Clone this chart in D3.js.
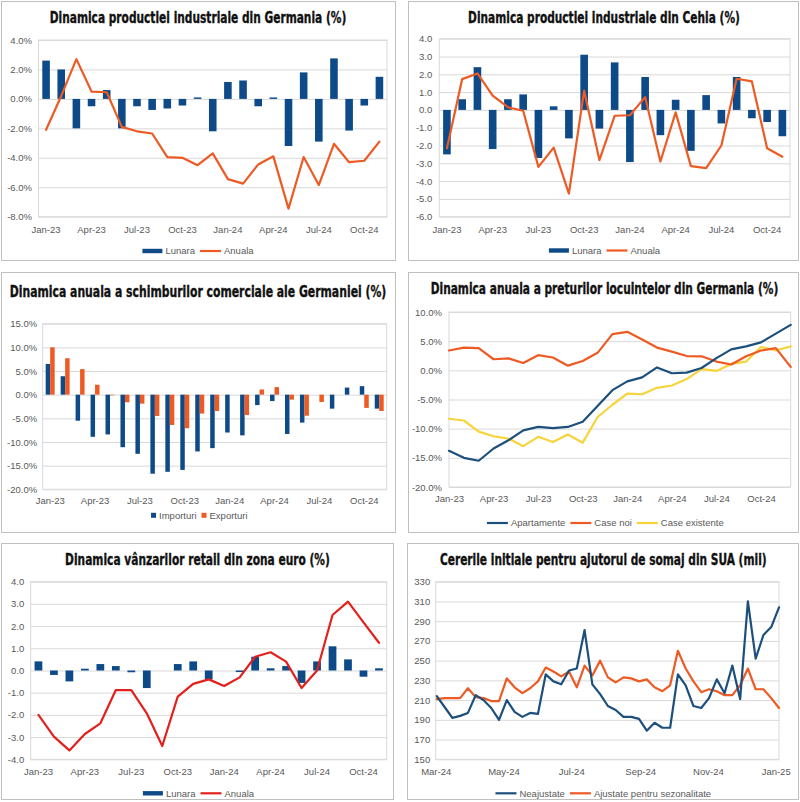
<!DOCTYPE html>
<html>
<head>
<meta charset="utf-8">
<script src="https://cdn.jsdelivr.net/npm/d3@7"></script>
<style>
  html, body { margin: 0; padding: 0; background: #fff; }
  svg { display: block; }
</style>
</head>
<body>
<div id="grafic"></div>
<script>
// ---- date ----
const luni = ["Jan-23","Feb-23","Mar-23","Apr-23","May-23","Jun-23","Jul-23","Aug-23","Sep-23","Oct-23","Nov-23","Dec-23",
  "Jan-24","Feb-24","Mar-24","Apr-24","May-24","Jun-24","Jul-24","Aug-24","Sep-24","Oct-24","Nov-24"];
const luniLocuinte = [...luni, "Dec-24"];
const eticheteLuni = ["Jan-23","Apr-23","Jul-23","Oct-23","Jan-24","Apr-24","Jul-24","Oct-24"];

// productia industriala Germania
const deLunara = [2.6, 2.0, -2.0, -0.5, 0.6, -2.0, -0.5, -0.75, -0.65, -0.45, 0.1, -2.2, 1.15, 1.25, -0.5, 0.1, -3.2, 1.8, -2.9, 2.75, -2.15, -0.45, 1.5];
const deAnuala = [-2.1, 0.2, 2.7, 0.5, 0.45, -1.9, -2.2, -2.35, -3.95, -4.0, -4.5, -3.7, -5.45, -5.75, -4.45, -3.9, -7.45, -3.95, -5.85, -3.05, -4.3, -4.2, -2.9];
const deTicks = [-8, -6, -4, -2, 0, 2, 4];

// productia industriala Cehia
const czLunara = [-2.5, 0.6, 2.4, -2.2, 0.6, 0.87, -2.7, 0.2, -1.6, 3.1, -1.05, 2.67, -2.93, 1.85, -1.42, 0.57, -2.3, 0.83, -0.76, 1.85, -0.47, -0.68, -1.48];
const czAnuala = [-2.15, 1.73, 2.05, 0.8, 0.15, -0.05, -3.2, -2.12, -4.7, 1.08, -2.82, -0.33, -0.3, 0.72, -2.9, -0.14, -3.16, -3.27, -2.0, 1.75, 1.6, -2.15, -2.63];
const czTicks = [-6, -5, -4, -3, -2, -1, 0, 1, 2, 3, 4];

// schimburi comerciale Germania
const importuri = [6.5, 3.9, -5.5, -8.9, -8.4, -11.1, -12.5, -16.7, -16.3, -15.9, -12.0, -11.3, -8.0, -8.6, -2.2, -1.35, -8.3, -5.9, null, -2.95, 1.5, 1.8, -2.95];
const exporturi = [10.0, 7.7, 5.4, 2.1, -0.1, -1.6, -1.9, -4.5, -6.4, -7.1, -4.0, -3.45, null, -4.3, 1.1, 1.6, -1.05, -4.45, -1.55, null, null, -2.8, -3.45];
const comertTicks = [-20, -15, -10, -5, 0, 5, 10, 15];

// preturile locuintelor Germania
const apartamente = [-13.8, -15.0, -15.5, -13.4, -12.0, -10.3, -9.7, -9.9, -9.7, -8.8, -6.1, -3.4, -1.9, -1.2, 0.5, -0.5, -0.4, 0.4, 2.1, 3.6, 4.1, 4.8, 6.3, 7.8];
const caseNoi = [3.4, 3.9, 3.8, 1.9, 2.05, 1.25, 2.6, 2.2, 0.8, 1.6, 3.0, 6.2, 6.6, 5.3, 3.9, 3.2, 2.45, 2.4, 1.5, 1.0, 2.4, 3.4, 3.8, 0.6];
const caseExistente = [-8.3, -8.6, -10.5, -11.3, -11.7, -13.0, -11.4, -12.3, -11.0, -12.4, -8.0, -5.9, -4.0, -4.1, -3.0, -2.6, -1.5, 0.2, -0.1, 1.1, 1.5, 4.0, 3.4, 4.1];
const locuinteTicks = [-20, -15, -10, -5, 0, 5, 10];

// vanzari retail zona euro
const euLunara = [0.41, -0.2, -0.49, 0.08, 0.29, 0.2, -0.08, -0.79, 0, 0.29, 0.41, -0.4, 0, -0.07, 0.62, 0.1, 0.2, -0.56, 0.41, 1.09, 0.5, -0.28, 0.1];
const euAnuala = [-2.0, -2.98, -3.6, -2.86, -2.38, -0.88, -0.88, -1.93, -3.4, -1.18, -0.6, -0.4, -0.7, -0.31, 0.62, 0.82, 0.4, -0.79, 0.0, 2.5, 3.1, 2.17, 1.25];
const euTicks = [-4, -3, -2, -1, 0, 1, 2, 3, 4];

// cereri initiale somaj SUA (mii)
const saptamani = ["2024-03-02","2024-03-09","2024-03-16","2024-03-23","2024-03-30","2024-04-06","2024-04-13","2024-04-20","2024-04-27",
  "2024-05-04","2024-05-11","2024-05-18","2024-05-25","2024-06-01","2024-06-08","2024-06-15","2024-06-22","2024-06-29",
  "2024-07-06","2024-07-13","2024-07-20","2024-07-27","2024-08-03","2024-08-10","2024-08-17","2024-08-24","2024-08-31",
  "2024-09-07","2024-09-14","2024-09-21","2024-09-28","2024-10-05","2024-10-12","2024-10-19","2024-10-26",
  "2024-11-02","2024-11-09","2024-11-16","2024-11-23","2024-11-30","2024-12-07","2024-12-14","2024-12-21","2024-12-28","2025-01-04"];
const neajustate = [214, 203, 192, 194, 197, 215, 210, 202, 190, 210, 198, 193, 197, 196, 236, 229, 226, 240, 242, 281, 226, 216, 204,
  200, 193, 193, 191, 179, 187, 182, 182, 236, 225, 204, 202, 212, 231, 217, 245, 211, 310, 252, 276, 284, 304];
const ajustate = [211, 212, 212, 212, 222, 213, 212, 209, 209, 232, 223, 217, 222, 229, 243, 239, 234, 239, 223, 245, 235, 250, 233,
  228, 233, 232, 229, 231, 223, 219, 225, 260, 242, 229, 218, 221, 219, 215, 215, 225, 242, 221, 221, 212, 202];
const somajTicks = [150, 170, 190, 210, 230, 250, 270, 290, 310, 330];
const eticheteSomaj = ["2024-03-01", "2024-05-01", "2024-07-01", "2024-09-01", "2024-11-01", "2025-01-01"];

// ---- stil ----
const albastru = "#0d4a87", portocaliu = "#ee5a24", rosu = "#e2211c", galben = "#f6d43a", bleumarin = "#1c4f7c";
const gri = "#d9d9d9", griText = "#595959";
const fontText = "'Liberation Sans', Arial, sans-serif";
const fontTitlu = "'Liberation Sans Narrow', 'DejaVu Sans Condensed', 'Arial Narrow', sans-serif";
const procent = d => d.toFixed(1) + "%";
const zecimal = d => d.toFixed(1);
const parseData = d3.timeParse("%Y-%m-%d");

const svg = d3.select("#grafic").append("svg").attr("width", 800).attr("height", 802);

const panou = (x, y, w, h) => svg.append("rect")
  .attr("x", x + 0.5).attr("y", y + 0.5).attr("width", w).attr("height", h)
  .attr("fill", "#fff").attr("stroke", "#bfbfbf");

// titlul: fontul condensat e strans pe orizontala pana la latimea din original
const titlu = (txt, cx, y, lungime) => {
  const g = svg.append("g");
  const t = g.append("text")
    .attr("x", 0).attr("y", 0)
    .attr("text-anchor", "middle")
    .attr("font-family", fontTitlu).attr("font-weight", "bold").attr("font-size", 16)
    .attr("fill", "#111").attr("stroke", "#111").attr("stroke-width", 0.35)
    .text(txt);
  const k = lungime / t.node().getComputedTextLength();
  g.attr("transform", `translate(${cx},${y}) scale(${k},1)`);
};

const stilAxa = a => a
  .attr("font-family", fontText).attr("font-size", 9.5)
  .call(s => s.select(".domain").remove())
  .call(s => s.selectAll("line").attr("stroke", gri))
  .call(s => s.selectAll("text").attr("fill", griText));

// grila, chenarul zonei si axele
const zona = (z, y, ticksY, fmt, x, ticksX, fmtX) => {
  const g = svg.append("g");
  g.append("g").attr("transform", `translate(${z.st},0)`)
    .call(d3.axisLeft(y).tickValues(ticksY).tickFormat(fmt).tickSize(-(z.dr - z.st)).tickPadding(z.padY))
    .call(stilAxa);
  g.append("rect").attr("x", z.st).attr("y", z.sus).attr("width", z.dr - z.st).attr("height", z.jos - z.sus)
    .attr("fill", "none").attr("stroke", gri);
  g.append("g").attr("transform", `translate(0,${z.jos})`)
    .call(d3.axisBottom(x).tickValues(ticksX).tickSize(0).tickPadding(z.padX).tickFormat(fmtX || (d => d)))
    .call(stilAxa);
  return g;
};

const legenda = (items, cx, cy) => {
  const g = svg.append("g");
  let x = 0;
  items.forEach(it => {
    if (it.tip === "bara") {
      g.append("rect").attr("x", x).attr("y", cy - 2.2).attr("width", 20).attr("height", 4.4).attr("fill", it.culoare);
      x += 20;
    } else if (it.tip === "patrat") {
      g.append("rect").attr("x", x).attr("y", cy - 2.5).attr("width", 5).attr("height", 5).attr("fill", it.culoare);
      x += 5;
    } else {
      g.append("line").attr("x1", x).attr("x2", x + 21).attr("y1", cy).attr("y2", cy)
        .attr("stroke", it.culoare).attr("stroke-width", 2.2);
      x += 21;
    }
    x += 3;
    const t = g.append("text").attr("x", x).attr("y", cy).attr("dy", "0.35em")
      .attr("font-family", fontText).attr("font-size", 9.5).attr("fill", griText).text(it.text);
    x += t.node().getComputedTextLength() + 5;
  });
  g.attr("transform", `translate(${cx - (x - 5) / 2},0)`);
};

const linie = (g, puncte, culoare) => g.append("path")
  .datum(puncte)
  .attr("d", d3.line().x(d => d[0]).y(d => d[1]))
  .attr("fill", "none").attr("stroke", culoare).attr("stroke-width", 2.2)
  .attr("stroke-linejoin", "round").attr("stroke-linecap", "round");

// bare lunare + linie anuala
const bareSiLinie = (z, lunara, anuala, culoareLinie, ticks, fmt) => {
  const x = d3.scaleBand().domain(luni).range([z.st, z.dr]).paddingInner(0.5).paddingOuter(0.25);
  const y = d3.scaleLinear().domain([ticks[0], ticks[ticks.length - 1]]).range([z.jos, z.sus]);
  const g = zona(z, y, ticks, fmt, x, eticheteLuni);
  g.selectAll("rect.bara").data(lunara).join("rect").attr("class", "bara")
    .attr("x", (d, i) => x(luni[i])).attr("width", x.bandwidth())
    .attr("y", d => y(Math.max(0, d))).attr("height", d => Math.abs(y(d) - y(0)))
    .attr("fill", albastru);
  linie(g, anuala.map((d, i) => [x(luni[i]) + x.bandwidth() / 2, y(d)]), culoareLinie);
};

// 1. Germania - productie industriala
panou(1, 1, 394, 259);
titlu("Dinamica productiei industriale din Germania (%)", 198, 23.3, 297);
bareSiLinie({st: 38.5, dr: 387, sus: 40, jos: 216.7, padY: 6.5, padX: 9.3}, deLunara, deAnuala, portocaliu, deTicks, procent);
legenda([{tip: "bara", culoare: albastru, text: "Lunara"}, {tip: "linie", culoare: portocaliu, text: "Anuala"}], 198, 251);

// 2. Cehia - productie industriala
panou(408, 1, 390, 259);
titlu("Dinamica productiei industriale din Cehia (%)", 604, 22.6, 272);
bareSiLinie({st: 439.3, dr: 790, sus: 38.7, jos: 216.7, padY: 7, padX: 9.3}, czLunara, czAnuala, portocaliu, czTicks, zecimal);
legenda([{tip: "bara", culoare: albastru, text: "Lunara"}, {tip: "linie", culoare: portocaliu, text: "Anuala"}], 604.5, 250.5);

// 3. Germania - comert exterior
panou(1, 272, 394, 260);
titlu("Dinamica anuala a schimburilor comerciale ale Germaniei (%)", 198, 297, 377);
{
  const z = {st: 42.7, dr: 386.7, sus: 323.7, jos: 489.3, padY: 5.5, padX: 8.4};
  const x = d3.scaleBand().domain(luni).range([z.st, z.dr]).paddingInner(0.4).paddingOuter(0.2);
  const xs = d3.scaleBand().domain(["imp", "exp"]).range([0, x.bandwidth()]);
  const y = d3.scaleLinear().domain([-20, 15]).range([z.jos, z.sus]);
  const g = zona(z, y, comertTicks, procent, x, eticheteLuni);
  [["imp", importuri, albastru], ["exp", exporturi, portocaliu]].forEach(([cheie, valori, culoare]) => {
    g.selectAll("rect." + cheie).data(valori.map((v, i) => ({v, luna: luni[i]})).filter(d => d.v !== null))
      .join("rect").attr("class", cheie)
      .attr("x", d => x(d.luna) + xs(cheie)).attr("width", xs.bandwidth())
      .attr("y", d => y(Math.max(0, d.v))).attr("height", d => Math.max(0.6, Math.abs(y(d.v) - y(0))))
      .attr("fill", culoare);
  });
}
legenda([{tip: "patrat", culoare: albastru, text: "Importuri"}, {tip: "patrat", culoare: portocaliu, text: "Exporturi"}], 199.3, 515.3);

// 4. Germania - preturile locuintelor
panou(408, 272, 390, 260);
titlu("Dinamica anuala a preturilor locuintelor din Germania (%)", 604.5, 294.3, 348);
{
  const z = {st: 449, dr: 790.7, sus: 312, jos: 487, padY: 7, padX: 8.4};
  const x = d3.scalePoint().domain(luniLocuinte).range([z.st, z.dr]);
  const y = d3.scaleLinear().domain([-20, 10]).range([z.jos, z.sus]);
  const g = zona(z, y, locuinteTicks, procent, x, eticheteLuni);
  linie(g, caseExistente.map((d, i) => [x(luniLocuinte[i]), y(d)]), galben);
  linie(g, caseNoi.map((d, i) => [x(luniLocuinte[i]), y(d)]), portocaliu);
  linie(g, apartamente.map((d, i) => [x(luniLocuinte[i]), y(d)]), bleumarin);
}
legenda([{tip: "linie", culoare: bleumarin, text: "Apartamente"}, {tip: "linie", culoare: portocaliu, text: "Case noi"},
  {tip: "linie", culoare: galben, text: "Case existente"}], 605.3, 523);

// 5. Zona euro - vanzari retail
panou(1, 543, 392, 256);
titlu("Dinamica vânzarilor retail din zona euro (%)", 197.5, 564.7, 265);
bareSiLinie({st: 30.7, dr: 386.7, sus: 581.7, jos: 759.3, padY: 6.5, padX: 8.7}, euLunara, euAnuala, rosu, euTicks, zecimal);
legenda([{tip: "bara", culoare: albastru, text: "Lunara"}, {tip: "linie", culoare: rosu, text: "Anuala"}], 198.5, 793.3);

// 6. SUA - cereri initiale somaj
panou(407, 543, 391, 256);
titlu("Cererile initiale pentru ajutorul de somaj din SUA (mii)", 603.3, 564.7, 327);
{
  const z = {st: 435.7, dr: 779, sus: 581.7, jos: 759.3, padY: 5.5, padX: 8.7};
  const x = d3.scaleTime().domain([parseData("2024-03-01"), parseData("2025-01-04")]).range([z.st, z.dr]);
  const y = d3.scaleLinear().domain([150, 330]).range([z.jos, z.sus]);
  const g = zona(z, y, somajTicks, d => d, x, eticheteSomaj.map(parseData), d3.timeFormat("%b-%y"));
  linie(g, ajustate.map((d, i) => [x(parseData(saptamani[i])), y(d)]), portocaliu);
  linie(g, neajustate.map((d, i) => [x(parseData(saptamani[i])), y(d)]), bleumarin);
}
legenda([{tip: "linie", culoare: bleumarin, text: "Neajustate"}, {tip: "linie", culoare: portocaliu, text: "Ajustate pentru sezonalitate"}], 603.3, 793.3);
</script>
</body>
</html>
